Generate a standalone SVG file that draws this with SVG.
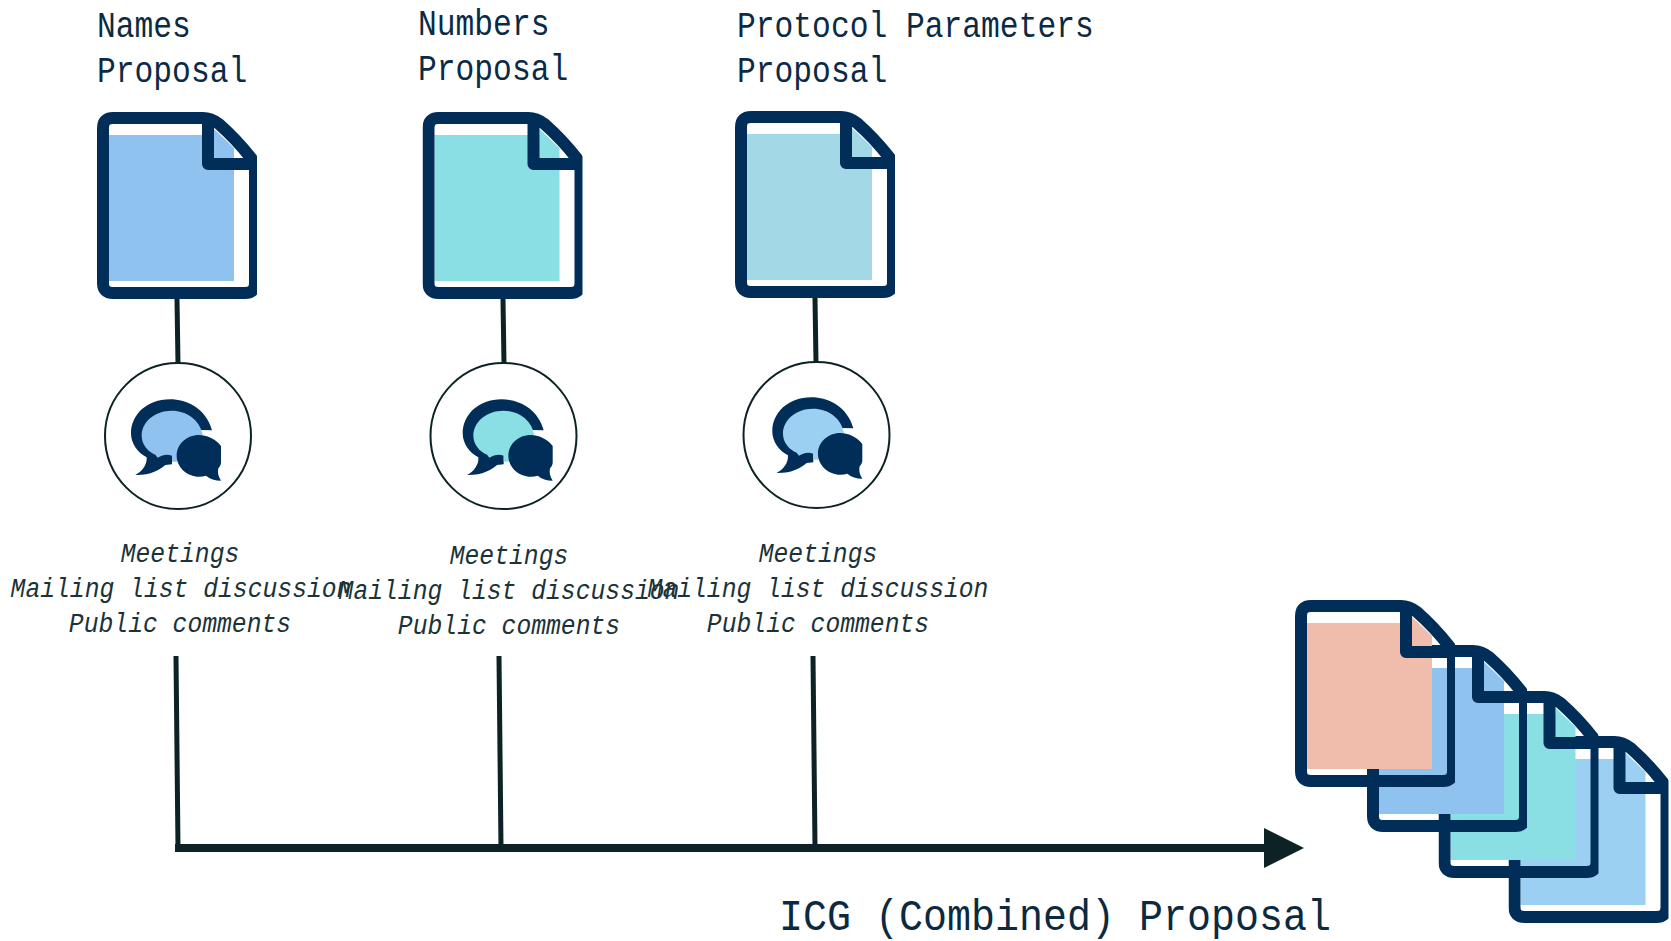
<svg xmlns="http://www.w3.org/2000/svg" xmlns:xlink="http://www.w3.org/1999/xlink" width="1671" height="941" viewBox="0 0 1671 941">
<style>
.title{font-family:"Liberation Mono","Noto Sans CJK SC",monospace;font-size:31.3px;fill:#0b2a45}
.big{font-family:"Liberation Mono","Noto Sans CJK SC",monospace;font-size:40px;fill:#0b2a40}
.note{font-family:"Liberation Mono","Noto Sans CJK SC",monospace;font-size:24.7px;font-style:italic;fill:#1b3338;text-anchor:middle}
.ink{fill:#002e58}
.line{stroke:#0d2225;fill:none;stroke-width:5}
.ring{fill:#fff;stroke:#0d2225;stroke-width:2}
.outline{fill:none;stroke:#002e58;stroke-width:12;stroke-linejoin:round}
.blue{fill:#90c2f0}.teal{fill:#89dfe3}.pale{fill:#a3d9e6}.salmon{fill:#f0bdad}.sky{fill:#9bd0f2}
</style>
<defs>
<clipPath id="docClip"><rect x="0" y="0" width="160" height="188"/></clipPath>
<path id="sheet" d="M12 23H117V17L137 36V169H12Z"/>
<g id="outlineShape" clip-path="url(#docClip)"><path class="outline" d="M6 16Q6 6 16 6H106Q114 6 122 12Q140 28 154 46Q158 51 158 56V171Q158 181 148 181H16Q6 181 6 171ZM111 6V52H158"/></g>
<path id="chatBig" d="M636 271C618 205 560 178 510 178C440 178 393 225 393 280C393 310 412 338 440 352C442 375 425 396 406 405C450 406 480 390 496 375L516 373V345L600 270Z"/>
<path id="chatDot" d="M663 318C645 295 620 285 597 285C560 285 530 312 530 347C530 382 562 410 597 410C605 410 612 409 618 407C630 417 645 422 663 422C655 410 652 398 655 385C660 380 663 372 663 368Z"/>
<path id="chatFill" d="M425 287C425 245 465 212 515 212C560 212 600 240 608 285L530 365H516V347C500 342 488 345 473 353L466 344C445 335 425 315 425 287Z"/>
<marker id="arrow" markerUnits="userSpaceOnUse" markerWidth="40" markerHeight="40" refX="0" refY="20" orient="auto" viewBox="0 0 40 40"><path d="M0 0L40 20L0 40Z" fill="#0d2225"/></marker>
</defs>
<rect width="1671" height="941" fill="#fff"/>
<g id="connectors">
<path class="line" d="M177 299L178 364"/>
<path class="line" d="M503 299L504 364"/>
<path class="line" d="M815 298L816 363"/>
<path class="line" d="M176 656L178 848"/>
<path class="line" d="M499 656L501 848"/>
<path class="line" d="M813 656L815 848"/>
<path d="M175 848H1264" stroke="#0d2225" stroke-width="8" fill="none" marker-end="url(#arrow)"/>
</g>
<g id="names-doc">
<text class="title" transform="translate(97 37) scale(1 1.18)">Names</text><text class="title" transform="translate(97 82) scale(1 1.18)">Proposal</text>
<g transform="translate(97 112)"><use xlink:href="#sheet" class="blue"/><use xlink:href="#outlineShape"/></g>
</g>
<g id="numbers-doc">
<text class="title" transform="translate(418 35) scale(1 1.18)">Numbers</text><text class="title" transform="translate(418 80) scale(1 1.18)">Proposal</text>
<g transform="translate(422.5 112)"><use xlink:href="#sheet" class="teal"/><use xlink:href="#outlineShape"/></g>
</g>
<g id="protocol-doc">
<text class="title" transform="translate(737 37) scale(1 1.18)">Protocol Parameters</text><text class="title" transform="translate(737 82) scale(1 1.18)">Proposal</text>
<g transform="translate(735 111)"><use xlink:href="#sheet" class="pale"/><use xlink:href="#outlineShape"/></g>
</g>
<g id="names-discussion">
<circle class="ring" cx="178" cy="436" r="73"/>
<g transform="translate(0 340) scale(.33333)"><use xlink:href="#chatBig" class="ink"/><use xlink:href="#chatFill" class="blue"/><use xlink:href="#chatDot" class="ink"/></g>
<text class="note" transform="translate(180 562) scale(1 1.15)">Meetings</text><text class="note" transform="translate(181 597) scale(1 1.15)">Mailing list discussion</text><text class="note" transform="translate(180 632) scale(1 1.15)">Public comments</text>
</g>
<g id="numbers-discussion">
<circle class="ring" cx="503.5" cy="436" r="73"/>
<g transform="translate(331.7 340) scale(.33333)"><use xlink:href="#chatBig" class="ink"/><use xlink:href="#chatFill" class="teal"/><use xlink:href="#chatDot" class="ink"/></g>
<text class="note" transform="translate(509 564) scale(1 1.15)">Meetings</text><text class="note" transform="translate(509 599) scale(1 1.15)">Mailing list discussion</text><text class="note" transform="translate(509 634) scale(1 1.15)">Public comments</text>
</g>
<g id="protocol-discussion">
<circle class="ring" cx="816.5" cy="435" r="73"/>
<g transform="translate(641.3 338) scale(.33333)"><use xlink:href="#chatBig" class="ink"/><use xlink:href="#chatFill" class="sky"/><use xlink:href="#chatDot" class="ink"/></g>
<text class="note" transform="translate(818 562) scale(1 1.15)">Meetings</text><text class="note" transform="translate(818 597) scale(1 1.15)">Mailing list discussion</text><text class="note" transform="translate(818 632) scale(1 1.15)">Public comments</text>
</g>
<g id="combined-proposal">
<g transform="translate(1508.5 736)"><use xlink:href="#sheet" class="sky"/><use xlink:href="#outlineShape"/></g>
<g transform="translate(1438.5 691)"><use xlink:href="#sheet" class="teal"/><use xlink:href="#outlineShape"/></g>
<g transform="translate(1367 645)"><use xlink:href="#sheet" class="blue"/><use xlink:href="#outlineShape"/></g>
<g transform="translate(1295 600)"><use xlink:href="#sheet" class="salmon"/><use xlink:href="#outlineShape"/></g>
<text class="big" transform="translate(779 930) scale(1 1.12)">ICG (Combined) Proposal</text>
</g>
</svg>
